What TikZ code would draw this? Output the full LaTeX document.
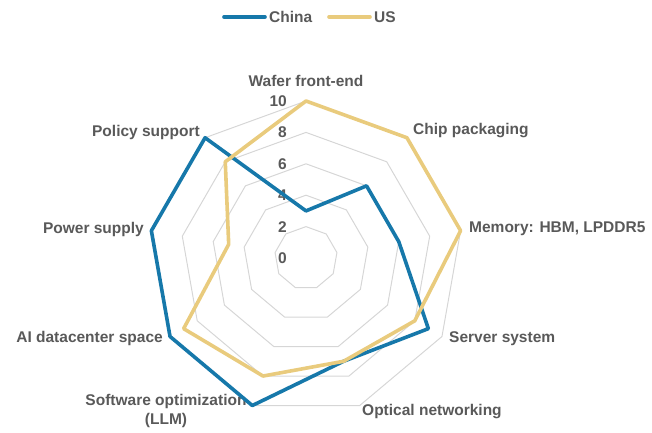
\documentclass[tikz,border=0pt]{standalone}
\usepackage{fontspec}
\setmainfont{Liberation Sans}
\usetikzlibrary{shapes.geometric}

\definecolor{chinablue}{RGB}{22,120,170}
\definecolor{usgold}{RGB}{233,203,125}
\definecolor{gridgray}{RGB}{214,214,214}
\definecolor{textgray}{RGB}{89,89,89}

\begin{document}
\begin{tikzpicture}[
  x=1pt, y=1pt,
  font=\fontsize{15.5}{19}\selectfont\bfseries,
  text=textgray,
  ring/.style={draw=gridgray, line width=1pt, regular polygon, regular polygon sides=9, inner sep=0pt},
  lbl/.style={inner sep=0pt},
  tick/.style={inner sep=0pt, anchor=east},
  china/.style={draw=chinablue, line width=3.6pt, line join=round},
  us/.style={draw=usgold, line width=3.6pt, line join=round},
]

\useasboundingbox (-306,-174) rectangle (346,258);

% Grid rings
\node[ring, minimum size=62.8pt] (ring2) at (0,0) {};
\node[ring, minimum size=125.6pt] (ring4) at (0,0) {};
\node[ring, minimum size=188.4pt] (ring6) at (0,0) {};
\node[ring, minimum size=251.2pt] (ring8) at (0,0) {};
\node[ring, minimum size=314pt] (ring10) at (0,0) {};

% Scale values
\node[tick] (t0) at (-19,0) {0};
\node[tick] (t2) at (-19,31.4) {2};
\node[tick] (t4) at (-19,62.8) {4};
\node[tick] (t6) at (-19,94.2) {6};
\node[tick] (t8) at (-19,125.6) {8};
\node[tick] (t10) at (-19,157) {10};

% Axis labels
\node[lbl] (wafer) at (0,177) {Wafer front-end};
\node[lbl, anchor=west] (chip) at (107,127) {Chip packaging};
\node[lbl, anchor=west] (memory) at (163,29) {Memory: HBM, LPDDR5};
\node[lbl, anchor=west] (server) at (143,-81) {Server system};
\node[lbl, anchor=west] (optical) at (56,-154) {Optical networking};
\node[lbl, align=center] (software) at (-140,-153) {Software optimization\\(LLM)};
\node[lbl, anchor=east] (aidc) at (-143,-80) {AI datacenter space};
\node[lbl, anchor=east] (power) at (-162,29) {Power supply};
\node[lbl, anchor=east] (policy) at (-106,126) {Policy support};

% China scores
\coordinate (c1) at (90:47.1);
\coordinate (c2) at (50:94.2);
\coordinate (c3) at (10:94.2);
\coordinate (c4) at (-30:141.3);
\coordinate (c5) at (-70:109.9);
\coordinate (c6) at (-110:157);
\coordinate (c7) at (-150:157);
\coordinate (c8) at (170:157);
\coordinate (c9) at (130:157);

% US scores
\coordinate (u1) at (90:157);
\coordinate (u2) at (50:157);
\coordinate (u3) at (10:157);
\coordinate (u4) at (-30:125.6);
\coordinate (u5) at (-70:109.9);
\coordinate (u6) at (-110:125.6);
\coordinate (u7) at (-150:141.3);
\coordinate (u8) at (170:78.5);
\coordinate (u9) at (130:125.6);

\draw[china] (c1) -- (c2) -- (c3) -- (c4) -- (c5) -- (c6) -- (c7) -- (c8) -- (c9) -- cycle;
\draw[us] (u1) -- (u2) -- (u3) -- (u4) -- (u5) -- (u6) -- (u7) -- (u8) -- (u9) -- cycle;

% Legend
\node[lbl, anchor=west] (chinaleg) at (-37,241) {China};
\node[lbl, anchor=west] (usleg) at (68,241) {US};
\draw[china, line cap=round] ([xshift=-4pt]chinaleg.west) -- ++(-41,0);
\draw[us, line cap=round] ([xshift=-4pt]usleg.west) -- ++(-41,0);

\end{tikzpicture}
\end{document}
